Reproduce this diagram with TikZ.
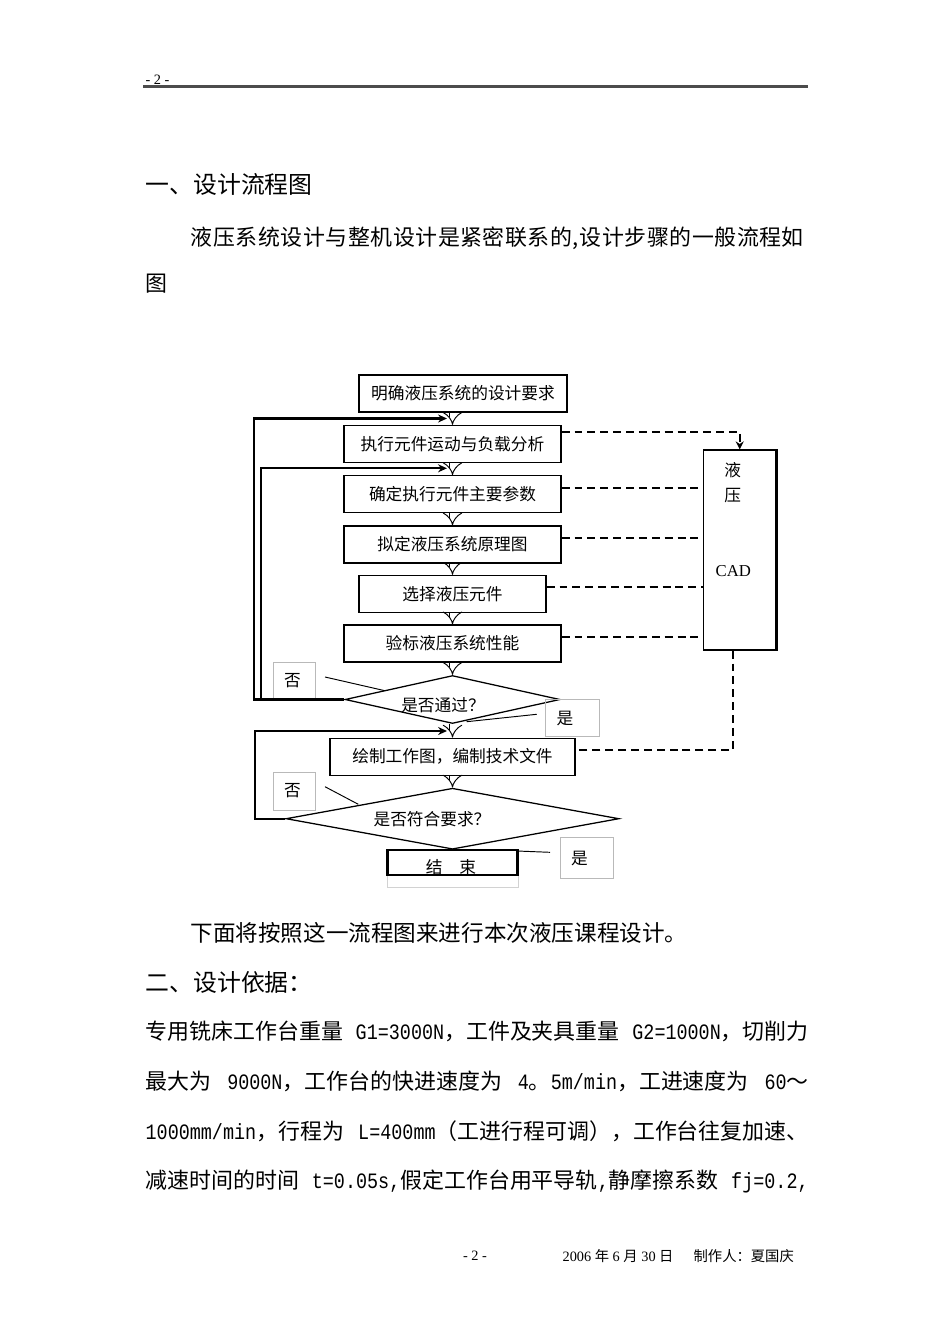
\documentclass[tikz,border=0pt]{standalone}
\usepackage{fontspec}
\usepackage{tikz}
\usetikzlibrary{arrows.meta}
\usetikzlibrary{shapes.geometric}
\setmainfont{Noto Sans CJK SC}
\newfontfamily\tnr{Liberation Serif}
\newfontfamily\halfw[FakeStretch=0.84]{Liberation Mono}
\newlength\pxu
\setlength\pxu{0.22105mm}

\begin{document}
\begin{tikzpicture}[x=\pxu,y=-\pxu,line width=0.8pt,
  stepbox/.style={draw,inner sep=0pt,minimum height=37\pxu,font=\fontsize{10.5}{12}\selectfont},
  decide/.style={draw,diamond,inner sep=0pt,aspect=4},
  tag/.style={draw=gray!55,line width=0.4pt,inner xsep=11\pxu,inner ysep=0pt,align=left,font=\fontsize{10.5}{12}\selectfont},
  txt/.style={inner sep=0pt,font=\fontsize{10.5}{12}\selectfont},
  flow/.style={double,double distance=6\pxu,line width=0.6pt,-{Implies}},
  back/.style={line width=1.4pt,-{Stealth[length=5.6pt,width=5pt]}},
  cadlink/.style={line width=1.2pt,dash pattern=on 5pt off 3.1pt},
  pointer/.style={line width=0.6pt},
  head/.style={anchor=west,inner sep=0pt,font=\fontsize{15}{17}\selectfont},
  body/.style={anchor=west,inner sep=0pt,font=\fontsize{13.8}{16}\selectfont}]
  \fill[white] (0,0) rectangle (950,1344);
  \useasboundingbox (0,0) rectangle (950,1344);

  \node[anchor=west,inner sep=0pt,font=\tnr\fontsize{9}{10}\selectfont] (hdnum) at (145,80) {- 2 -};
  \draw[gray!60!black,line width=0.55mm] (143,86.5) -- (808,86.5);

  \node[head] (sec1) at (145,184) {一、设计流程图};
  \node[body] (para1) at (190,238) {\addfontfeature{LetterSpace=2.5}液压系统设计与整机设计是紧密联系的,设计步骤的一般流程如};
  \node[body] (para1b) at (145,284) {图};

  \node[stepbox,minimum width=208\pxu] (req) at (463,393.5) {明确液压系统的设计要求};
  \node[stepbox,minimum width=217\pxu] (load) at (452.5,444) {执行元件运动与负载分析};
  \node[stepbox,minimum width=217\pxu] (param) at (452.5,494.3) {确定执行元件主要参数};
  \node[stepbox,minimum width=217\pxu] (scheme) at (452.5,544.5) {拟定液压系统原理图};
  \node[stepbox,minimum width=187\pxu] (select) at (452.5,593.9) {选择液压元件};
  \node[stepbox,minimum width=217\pxu] (check) at (452.5,643.5) {验标液压系统性能};
  \node[decide,minimum width=215\pxu,minimum height=48\pxu] (pass) at (452.5,699.5) {};
  \node[txt] (passtxt) at (443,705) {是否通过？};
  \node[stepbox,minimum width=245\pxu] (drawing) at (452.5,756.7) {绘制工作图，编制技术文件};
  \node[decide,minimum width=333\pxu,minimum height=61\pxu] (meet) at (452.5,818.7) {};
  \node[txt] (meettxt) at (432,819) {是否符合要求？};
  \node[draw=gray!35,line width=0.5pt,minimum width=131\pxu,minimum height=37\pxu] (endframe) at (452.5,868.5) {};
  \node[draw,line width=1.3pt,minimum width=130\pxu,minimum height=25\pxu] (fin) at (452.5,862.5) {};
  \node[txt] (fintxt) at (451,867) {结　束};

  \node[draw,minimum width=72.7\pxu,minimum height=200\pxu] (cad) at (739.7,550) {};
  \draw[line width=1.4pt] (cad.north east) -- (cad.south east);
  \node[txt] (cad1) at (732.7,470) {液};
  \node[txt] (cad2) at (732.7,496) {压};
  \node[txt,font=\tnr\fontsize{10.5}{12}\selectfont] (cad3) at (733.3,571) {CAD};

  \node[tag,text width=20\pxu,minimum height=38\pxu] (no1) at (294,681) {否};
  \node[tag,text width=32\pxu,minimum height=37\pxu] (yes1) at (572.5,718.3) {是};
  \node[tag,text width=20\pxu,minimum height=38\pxu] (no2) at (294,791) {否};
  \node[tag,text width=31\pxu,minimum height=41\pxu] (yes2) at (586.5,858) {是};

  \draw[flow] (req.south -| load.north) -- (load.north);
  \draw[flow] (load) -- (param);
  \draw[flow] (param) -- (scheme);
  \draw[flow] (scheme) -- (select);
  \draw[flow] (select) -- (check);
  \draw[flow] (check) -- (pass.north);
  \draw[flow] (pass.south) -- (drawing);
  \draw[flow] (drawing) -- (meet.north);

  \coordinate (in1) at (447,418.5);
  \coordinate (in2) at (447,468.3);
  \coordinate (in3) at (447,731);
  \coordinate (join) at (261,700);
  \draw[back] (pass.west) -- ++(-90,0) |- (in1);
  \draw[back] (join) |- (in2);
  \draw[back] (meet.west) -- ++(-30,0) |- (in3);

  \draw[cadlink,-{Stealth[length=5pt,width=5pt]}] ([yshift=12.3\pxu]load.east) -| (cad.north);
  \draw[cadlink] ([yshift=6.5\pxu]param.east) -- ([yshift=6.5\pxu]param.east -| cad.west);
  \draw[cadlink] ([yshift=6.5\pxu]scheme.east) -- ([yshift=6.5\pxu]scheme.east -| cad.west);
  \draw[cadlink] ([yshift=6.5\pxu]select.east) -- ([yshift=6.5\pxu]select.east -| cad.west);
  \draw[cadlink] ([yshift=6.5\pxu]check.east) -- ([yshift=6.5\pxu]check.east -| cad.west);
  \draw[cadlink] ([xshift=-7\pxu]cad.south) |- ([yshift=6.7\pxu]drawing.east);

  \coordinate (no1p) at (325,677);
  \coordinate (no1q) at (384,690.5);
  \coordinate (yes1p) at (536.7,714.3);
  \coordinate (yes1q) at (466.7,721.7);
  \coordinate (no2p) at (325,786.7);
  \coordinate (no2q) at (358.3,804.3);
  \coordinate (yes2p) at (517,851);
  \coordinate (yes2q) at (550,852.3);
  \draw[pointer] (no1p) -- (no1q);
  \draw[pointer] (yes1p) -- (yes1q);
  \draw[pointer] (no2p) -- (no2q);
  \draw[pointer] (yes2p) -- (yes2q);

  \node[body,font=\fontsize{14.2}{16}\selectfont] (para2) at (190,933) {下面将按照这一流程图来进行本次液压课程设计。};
  \node[head] (sec2) at (145,982) {二、设计依据：};
  \node[body] (data1) at (145,1031) {\makebox[663\pxu][s]{专用铣床工作台重量 {\halfw G1=3000N}，工件及夹具重量 {\halfw G2=1000N}，切削力}};
  \node[body] (data2) at (145,1081) {\makebox[663\pxu][s]{最大为 {\halfw 9000N}，工作台的快进速度为 {\halfw 4}。{\halfw 5m/min}，工进速度为 {\halfw 60}～}};
  \node[body] (data3) at (145,1131) {\makebox[663\pxu][s]{{\halfw 1000mm/min}，行程为 {\halfw L=400mm}（工进行程可调），工作台往复加速、}};
  \node[body] (data4) at (145,1181) {\makebox[663\pxu][s]{减速时间的时间 {\halfw t=0.05s,}假定工作台用平导轨{\halfw ,}静摩擦系数 {\halfw fj=0.2,}}};

  \node[inner sep=0pt,font=\tnr\fontsize{9}{10}\selectfont] (ftnum) at (475,1256) {- 2 -};
  \node[anchor=west,inner sep=0pt,font=\fontsize{9}{10}\selectfont] (ftdate) at (562,1256) {{\tnr 2006 }年{\tnr{} 6 }月{\tnr{} 30 }日};
  \node[anchor=west,inner sep=0pt,font=\fontsize{9}{10}\selectfont] (ftauthor) at (693,1256) {制作人：夏国庆};
\end{tikzpicture}
\end{document}
